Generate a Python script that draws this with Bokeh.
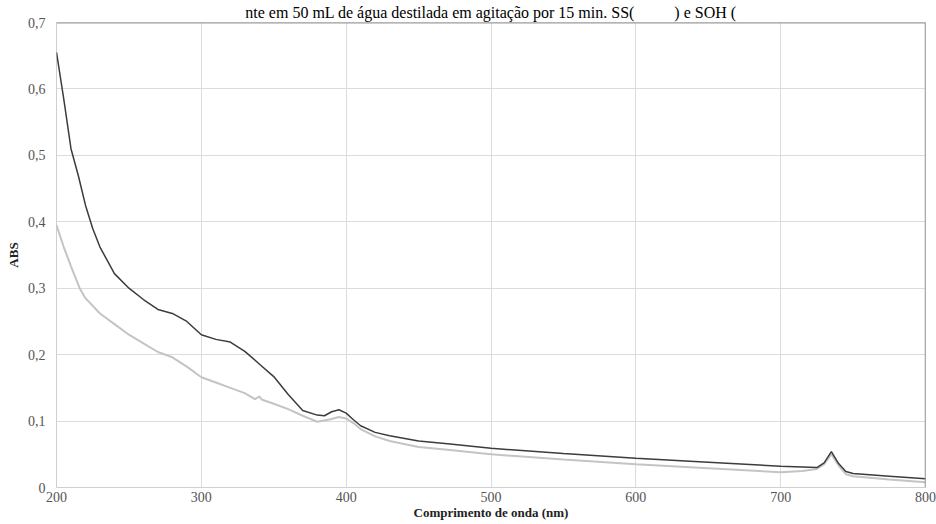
from bokeh.plotting import figure
from bokeh.models import FixedTicker, Span, Range1d
from bokeh.embed import file_html
from bokeh.resources import INLINE

# --- data ---
ss_wl = [200, 205, 210, 215, 220, 225, 230, 240, 250, 260, 270, 280, 290, 300,
         310, 320, 330, 340, 350, 360, 370, 380, 385, 390, 395, 400, 405, 410,
         420, 430, 450, 470, 500, 550, 600, 650, 700, 725, 730, 735, 740, 745,
         750, 775, 800]
ss_abs = [0.655, 0.585, 0.51, 0.47, 0.425, 0.39, 0.362, 0.322, 0.30, 0.283,
          0.268, 0.262, 0.25, 0.23, 0.223, 0.219, 0.205, 0.186, 0.167, 0.14,
          0.116, 0.109, 0.108, 0.114, 0.117, 0.112, 0.102, 0.093, 0.083, 0.078,
          0.070, 0.066, 0.059, 0.051, 0.044, 0.038, 0.032, 0.030, 0.037, 0.054,
          0.036, 0.024, 0.021, 0.017, 0.013]

soh_wl = [200, 205, 210, 216, 220, 230, 240, 250, 260, 270, 280, 290, 300, 310,
          320, 330, 337, 340, 342, 350, 360, 370, 380, 390, 395, 400, 405, 410,
          420, 430, 450, 470, 500, 550, 600, 650, 700, 715, 725, 730, 735, 740,
          745, 750, 775, 800]
soh_abs = [0.395, 0.362, 0.333, 0.30, 0.285, 0.262, 0.246, 0.23, 0.217, 0.204,
           0.196, 0.182, 0.166, 0.158, 0.150, 0.142, 0.133, 0.137, 0.132, 0.126,
           0.118, 0.108, 0.099, 0.103, 0.106, 0.104, 0.097, 0.088, 0.077, 0.070,
           0.061, 0.057, 0.050, 0.042, 0.035, 0.029, 0.023, 0.025, 0.028, 0.035,
           0.05, 0.033, 0.020, 0.017, 0.012, 0.008]

x_ticks = [200, 300, 400, 500, 600, 700, 800]
y_ticks = [0, 0.1, 0.2, 0.3, 0.4, 0.5, 0.6, 0.7]
y_tick_labels = ["0", "0,1", "0,2", "0,3", "0,4", "0,5", "0,6", "0,7"]

caption = ("nte em 50 mL de água destilada em agitação por 15 min. SS("
           + "\u00a0" * 10 + ") e SOH (")

SERIF = "Liberation Serif"

p = figure(width=936, height=524, output_backend="svg", toolbar_location=None,
           x_range=Range1d(200, 800), y_range=Range1d(0, 0.7),
           min_border_left=56, min_border_right=11, min_border_top=22,
           min_border_bottom=37, title=caption)

p.title.align = "center"
p.title.text_font = SERIF
p.title.text_font_size = "16px"
p.title.text_font_style = "normal"
p.title.text_color = "black"
p.title.standoff = 3
p.title.offset = 0

p.background_fill_color = "white"
p.border_fill_color = "white"
p.outline_line_color = "#cfcfcf"
p.outline_line_width = 1

for ax in (p.xaxis[0], p.yaxis[0]):
    ax.axis_line_color = None
    ax.major_tick_line_color = None
    ax.minor_tick_line_color = None
    ax.major_tick_out = 0
    ax.major_tick_in = 0
    ax.major_label_text_font = SERIF
    ax.major_label_text_font_size = "14px"
    ax.major_label_text_color = "#555555"
    ax.axis_label_text_font = SERIF
    ax.axis_label_text_font_size = "13px"
    ax.axis_label_text_font_style = "bold"
    ax.axis_label_text_color = "#222222"

p.xaxis.ticker = FixedTicker(ticks=x_ticks)
p.yaxis.ticker = FixedTicker(ticks=y_ticks)
p.yaxis.major_label_overrides = {t: l for t, l in zip(y_ticks, y_tick_labels)}
p.xaxis.axis_label = "Comprimento de onda (nm)"
p.yaxis.axis_label = "ABS"
p.xaxis.major_label_standoff = 4
p.xaxis.axis_label_standoff = 0
p.yaxis.major_label_standoff = 11
p.yaxis.axis_label_standoff = 4

p.xgrid.grid_line_color = "#dcdcdc"
p.ygrid.grid_line_color = "#dcdcdc"
p.xgrid.grid_line_width = 1
p.ygrid.grid_line_width = 1

p.add_layout(Span(location=0.7, dimension="width", line_color="#9a9a9a",
                  line_width=2))
p.add_layout(Span(location=800, dimension="height", line_color="#8a8a8a",
                  line_width=1.5))

p.line(soh_wl, soh_abs, line_color="#c4c4c4", line_width=2)
p.line(ss_wl, ss_abs, line_color="#3c3c3c", line_width=1.5)

open("out.html", "w").write(file_html(p, INLINE))
